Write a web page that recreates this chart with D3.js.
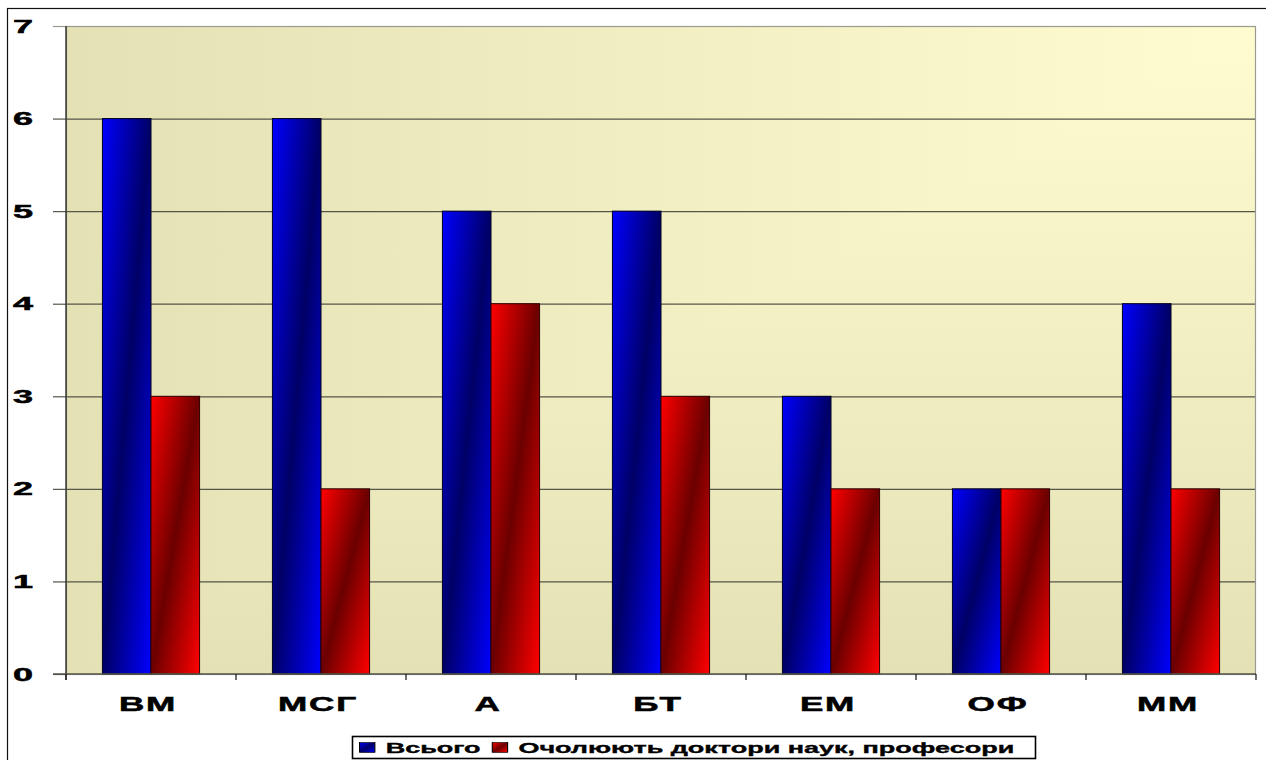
<!DOCTYPE html>
<html><head><meta charset="utf-8">
<script src="https://cdn.jsdelivr.net/npm/d3@7"></script>
<style>
body{margin:0;background:#fff}
svg{display:block}
text{font-family:Arial,"Liberation Sans",sans-serif;font-weight:bold;fill:#000;stroke:#000}
</style>
</head><body>
<svg id="c" width="1266" height="760"></svg>
<script>
const categories = ["ВМ","МСГ","А","БТ","ЕМ","ОФ","ММ"];
const seriesNames = ["Всього","Очолюють доктори наук, професори"];
const totalValues = [6,6,5,5,3,2,4];
const professorValues = [3,2,4,3,2,2,2];
const yTicks = [0,1,2,3,4,5,6,7];

const m = {left:66, right:1256, top:26, bottom:674};
const svg = d3.select("#c");
const defs = svg.append("defs");

function barGrad(id, bright, dark){
  const g = defs.append("linearGradient").attr("id", id)
    .attr("x1",0).attr("y1",0).attr("x2",1).attr("y2",1);
  g.append("stop").attr("offset",0).attr("stop-color",bright);
  g.append("stop").attr("offset",0.5).attr("stop-color",dark);
  g.append("stop").attr("offset",1).attr("stop-color",bright);
}
barGrad("gBlue","#0000ff","#000066");
barGrad("gRed","#ff0000","#6b0000");

const light = "#fffdcf", beige = "#e4e1b5";
const gh = defs.append("linearGradient").attr("id","bgH").attr("gradientUnits","userSpaceOnUse")
  .attr("x1",m.right).attr("y1",0).attr("x2",m.left).attr("y2",0);
gh.append("stop").attr("offset",0).attr("stop-color",light);
gh.append("stop").attr("offset",1).attr("stop-color",beige);
const gv = defs.append("linearGradient").attr("id","bgV").attr("gradientUnits","userSpaceOnUse")
  .attr("x1",0).attr("y1",m.top).attr("x2",0).attr("y2",m.bottom);
gv.append("stop").attr("offset",0).attr("stop-color",light);
gv.append("stop").attr("offset",1).attr("stop-color",beige);

// outer chart border
svg.append("rect").attr("x",7.5).attr("y",8.5).attr("width",1400).attr("height",900)
  .attr("fill","#fff").attr("stroke","#111").attr("stroke-width",1.2);

const x = d3.scaleBand().domain(categories).range([m.left, m.right]).paddingInner(0).paddingOuter(0);
const xs = d3.scaleBand().domain([0,1]).range([0, x.bandwidth()]).paddingInner(0).paddingOuter(0.75);
const y = d3.scaleLinear().domain([0,7]).range([m.bottom, m.top]);

// plot background
const bg = svg.append("g").style("isolation","isolate");
bg.append("rect").attr("x",m.left).attr("y",m.top).attr("width",m.right-m.left).attr("height",m.bottom-m.top).attr("fill","url(#bgH)");
bg.append("rect").attr("x",m.left).attr("y",m.top).attr("width",m.right-m.left).attr("height",m.bottom-m.top).attr("fill","url(#bgV)").style("mix-blend-mode","darken");

// gridlines
const grid = svg.append("g").attr("transform",`translate(${m.left},0)`)
  .call(d3.axisLeft(y).tickValues(yTicks.filter(d=>d>0 && d<7)).tickSize(-(m.right-m.left)).tickFormat(""));
grid.select(".domain").remove();
grid.selectAll("line").attr("stroke","#55554a").attr("stroke-width",1.2);

// plot border
svg.append("rect").attr("x",m.left+0.5).attr("y",m.top+0.5).attr("width",m.right-m.left-1).attr("height",m.bottom-m.top)
  .attr("fill","none").attr("stroke","#9a9a90").attr("stroke-width",1.2);

// outside y ticks
const yt = svg.append("g").attr("transform",`translate(${m.left},0)`)
  .call(d3.axisLeft(y).tickValues(yTicks).tickSize(13).tickFormat(""));
yt.select(".domain").remove();
yt.selectAll("line").attr("stroke",(d)=> d===7 ? "#9a9a90" : "#55554a").attr("stroke-width",1.2);

// bars
const data = categories.map((c,i)=>({c, v:[totalValues[i], professorValues[i]]}));
const groups = svg.append("g").selectAll("g").data(data).join("g")
  .attr("transform", d=>`translate(${x(d.c)},0)`);
groups.selectAll("rect").data(d=>d.v.map((v,k)=>({v,k}))).join("rect")
  .attr("x", d=>xs(d.k)).attr("width", xs.bandwidth())
  .attr("y", d=>y(d.v)).attr("height", d=>y(0)-y(d.v))
  .attr("fill", d=> d.k===0 ? "url(#gBlue)" : "url(#gRed)")
  .attr("stroke", d=> d.k===0 ? "#000020" : "#300000").attr("stroke-width",1);

// y axis line
svg.append("line").attr("x1",m.left).attr("x2",m.left).attr("y1",m.top).attr("y2",m.bottom+6)
  .attr("stroke","#222").attr("stroke-width",1.3);
// x axis
svg.append("line").attr("x1",m.left-13).attr("x2",m.right).attr("y1",m.bottom).attr("y2",m.bottom)
  .attr("stroke","#55554a").attr("stroke-width",1.3);
const edges = categories.map(c=>x(c)).concat([x(categories[categories.length-1])+x.bandwidth()]);
svg.append("g").selectAll("line").data(edges).join("line")
  .attr("x1",d=>d).attr("x2",d=>d).attr("y1",m.bottom).attr("y2",m.bottom+6)
  .attr("stroke","#222").attr("stroke-width",1.3);

// y labels
svg.append("g").selectAll("text").data(yTicks).join("text")
  .attr("transform", d=>`translate(23,${y(d)+6.5}) scale(2,1)`)
  .attr("text-anchor","middle").attr("font-size",18).attr("stroke-width",0.5).text(d=>d);

// x labels
svg.append("g").selectAll("text").data(categories).join("text")
  .attr("transform", d=>`translate(${x(d)+x.bandwidth()/2 - 3},711) scale(1.8,1)`)
  .attr("text-anchor","middle").attr("font-size",19.5).attr("letter-spacing",1)
  .attr("stroke-width",0.5).text(d=>d);

// legend
const lg = svg.append("g");
lg.append("rect").attr("x",352.5).attr("y",736.5).attr("width",683).attr("height",22)
  .attr("fill","#fff").attr("stroke","#000").attr("stroke-width",1.6);
const li = lg.append("g").attr("transform","translate(352,736) scale(1.8,1)");
let cx = 4.2;
seriesNames.forEach((s,k)=>{
  li.append("rect").attr("x",cx).attr("y",6.5).attr("width",8.5).attr("height",10)
    .attr("fill", k===0 ? "url(#gBlue)" : "url(#gRed)").attr("stroke","#000").attr("stroke-width",0.6);
  cx += 14.5;
  const t = li.append("text").attr("x",cx).attr("y",17).attr("font-size",15).attr("stroke-width",0.35).text(s);
  cx += t.node().getComputedTextLength() + 6.5;
});
</script>
</body></html>
